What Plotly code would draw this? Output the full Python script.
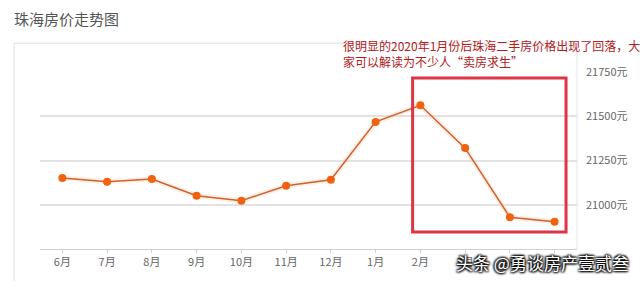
import plotly.graph_objects as go

months = ["6月", "7月", "8月", "9月", "10月", "11月", "12月", "1月", "2月", "3月", "4月", "5月"]
prices = [21151, 21130, 21145, 21051, 21023, 21107, 21141, 21468, 21562, 21320, 20929, 20904]
y_ticks = [21000, 21250, 21500, 21750]
y_ticktext = [f"{v}元" for v in y_ticks]

title_text = "珠海房价走势图"
note_text = "很明显的2020年1月份后珠海二手房价格出现了回落，大<br>家可以解读为不少人“卖房求生”"
watermark = "头条 @勇谈房产壹贰叁"

FONT = "Noto Sans CJK SC, Noto Sans, sans-serif"

fig = go.Figure()
# soft glow under the line
fig.add_trace(go.Scatter(x=months, y=prices, mode="lines",
                         line=dict(color="rgba(255,200,160,0.3)", width=5),
                         hoverinfo="skip", showlegend=False))
fig.add_trace(go.Scatter(x=months, y=prices, mode="lines+markers",
                         line=dict(color="#cf6130", width=1.5),
                         marker=dict(color="#f0620f", size=8),
                         showlegend=False))

L, R, T, B = 40, 579, 72, 250
W, H = 640, 281
def px(x):
    return (x - L) / (R - L)
def py(y):
    return (B - y) / (B - T)

shapes = [
    # container border
    dict(type="line", xref="paper", yref="paper", x0=px(14), x1=px(579), y0=py(43), y1=py(43),
         line=dict(color="#dedede", width=1)),
    dict(type="line", xref="paper", yref="paper", x0=px(14), x1=px(14), y0=py(43), y1=py(290),
         line=dict(color="#dedede", width=1)),
    dict(type="line", xref="paper", yref="paper", x0=px(579), x1=px(579), y0=py(43), y1=py(250),
         line=dict(color="#e4e4e4", width=1)),
    # red highlight box
    dict(type="rect", xref="paper", yref="paper", x0=px(414), x1=px(568), y0=py(78), y1=py(233),
         line=dict(color="#dc3545", width=3)),
]

annotations = [
    dict(text=title_text, xref="paper", yref="paper", x=px(12), y=py(18), xanchor="left", yanchor="middle",
         showarrow=False, font=dict(family=FONT, size=15, color="#555555")),
    dict(text=note_text, xref="paper", yref="paper", x=px(342), y=py(53), xanchor="left", yanchor="middle",
         align="left", showarrow=False, font=dict(family=FONT, size=12, color="#b0201c")),
    dict(text=watermark, xref="paper", yref="paper", x=px(633), y=py(264), xanchor="right", yanchor="middle",
         showarrow=False, font=dict(family=FONT, size=17, color="#ffffff", shadow="1px 1px 2px #000, -1px -1px 2px #000, 1px -1px 2px #000, -1px 1px 2px #000")),
]

fig.update_layout(
    width=W, height=H,
    margin=dict(l=L, r=W - R, t=T, b=H - B),
    paper_bgcolor="white", plot_bgcolor="white",
    shapes=shapes, annotations=annotations,
    font=dict(family=FONT, size=11, color="#666666"),
    xaxis=dict(type="category", range=[-0.5, 11.5], showgrid=False,
               showline=True, linecolor="#d0d0d0", linewidth=1,
               ticks="outside", ticklen=3, tickcolor="#d0d0d0",
               tickfont=dict(family=FONT, size=11, color="#666666"), fixedrange=True),
    yaxis=dict(side="right", range=[20750, 21750], tickvals=y_ticks, ticktext=y_ticktext,
               showgrid=True, gridcolor="#e2e2e2", gridwidth=1.5, zeroline=False,
               showline=False, ticks="", ticklabelstandoff=8,
               tickfont=dict(family=FONT, size=11, color="#666666"), fixedrange=True),
)

fig.write_html("out.html")
